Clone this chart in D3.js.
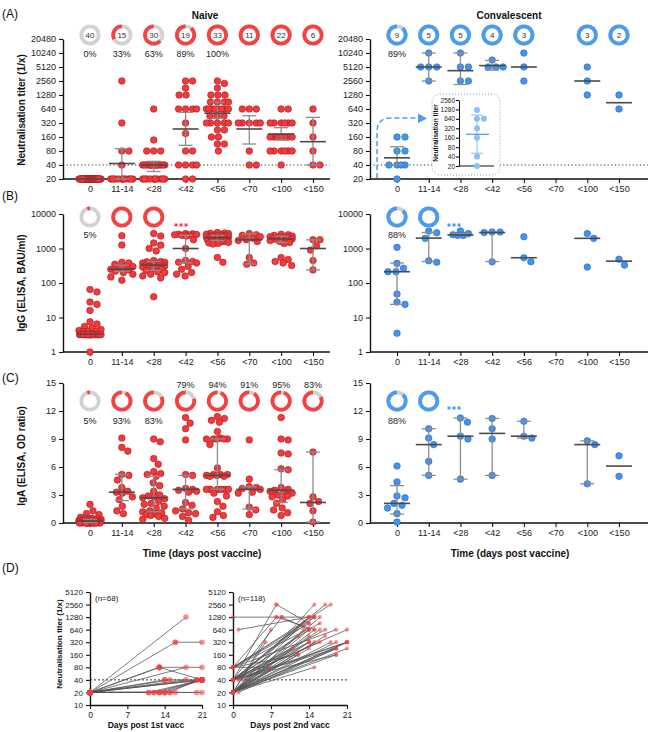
<!DOCTYPE html>
<html>
<head>
<meta charset="utf-8">
<script src="https://cdn.jsdelivr.net/npm/d3@7"></script>
<style>
body { margin: 0; background: #fff; }
</style>
</head>
<body>
<svg id="chart"></svg>
<script>
"use strict";

var categories = ['0', '11-14', '<28', '<42', '<56', '<70', '<100', '<150'];

// (A) neutralisation titres
var aNaive = [
	[20,20,20,20,20,20,20,20,20,20,20,20,20,20,20,20,20,20,20,20,20,20,20,20,20,20,20,20,20,20,20,20,20,20,20,20,20,20,20,20],
	[2560,320,80,80,40,20,20,20,20,20,20,20,20,20,20],
	[640,138,80,80,80,40,40,40,40,40,40,40,40,40,40,40,40,40,40,40,20,20,20,20,20,20,20,20,20,20],
	[2560,2560,1810,1280,1280,640,640,640,640,320,190,80,80,40,40,40,40,20,20],
	[2560,2260,1810,1280,1280,1280,905,905,905,905,640,640,640,640,640,640,640,640,453,453,453,320,320,320,320,320,226,226,160,160,113,113,80],
	[640,640,640,320,320,320,320,320,80,40,40],
	[640,640,320,320,320,320,320,320,160,160,160,160,160,160,160,80,80,80,80,80,80,40],
	[640,320,160,80,40,40]
];
var aNaiveMed = [20, 43, 40, 238, 520, 238, 185, 127];
var aNaiveQ1  = [20, 20, 29, 106, 400, 113, 138, 40];
var aNaiveQ3  = [20, 90, 48, 543, 900, 459, 254, 424];
var aNaiveN   = [40, 15, 30, 19, 33, 11, 22, 6];
var aNaivePct = [0, 33, 63, 89, 100, 100, 100, 100];
var aNaivePctText = ['0%', '33%', '63%', '89%', '100%', '', '', ''];

var aConv = [
	[160,160,80,80,40,40,40,40,20],
	[10240,5120,5120,5120,2560],
	[10240,5120,5120,2560,2560],
	[7240,5120,5120,5120],
	[10240,5120,2560],
	[],
	[5120,2560,1280],
	[1280,640]
];
var aConvMed = [57, 5120, 4270, 5480, 5120, null, 2560, 874];
var aConvQ1  = [40, 2560, 2150, 4400, 5120, null, 2560, 874];
var aConvQ3  = [99, 10240, 10240, 7100, 5120, null, 2560, 874];
var aConvN   = [9, 5, 5, 4, 3, null, 3, 2];
var aConvPct = [89, 100, 100, 100, 100, null, 100, 100];
var aConvPctText = ['89%', '', '', '', '', '', '', ''];

var insetVals = [1230, 640, 640, 320, 160, 40, 20];
var insetMed = 205, insetQ1 = 51, insetQ3 = 845;

var titerTicks = [20, 40, 80, 160, 320, 640, 1280, 2560, 5120, 10240, 20480];
var insetTicks = [20, 40, 80, 160, 320, 640, 1280, 2560];

// (B) IgG
var bNaive = [
	[65,55,28,24,16,7.5,6.5,5.5,5,4.5,4.2,4,4,3.8,3.2,3.2,3.2,3.2,3.2,3.2,3.2,3.2,3.2,3.2,3.2,3.2,3.2,3.2,3.2,3.2,3.2,3.2,3.2,3.2,3.2,3.2,3.2,3.2,1],
	[2340,1260,400,380,350,300,290,270,250,240,220,200,180,150,120],
	[2700,2300,1450,1250,1000,850,450,420,410,400,380,370,360,350,340,330,320,310,300,290,280,260,250,230,210,200,180,160,140,40],
	[2700,2650,2600,2550,2500,2450,2400,2300,1800,1000,450,420,400,380,300,250,200,180,160],
	[2900,2800,2750,2700,2600,2500,2450,2400,2350,2300,2250,2200,2200,2150,2100,2050,2000,2000,1950,1900,1850,1800,1750,1700,1650,1600,1550,1500,1450,1400,1350,550,400],
	[2700,2500,2400,2200,2000,1800,1700,1600,550,380,350],
	[2600,2500,2400,2300,2200,2150,2100,2050,2000,1950,1900,1850,1800,1700,1600,1500,1400,550,480,420,380,320],
	[1800,1800,1200,900,450,240]
];
var bNaiveMed = [3.3, 253, 330, 1000, 2050, 1780, 1900, 1000];
var bNaiveQ1  = [3.3, 215, 230, 380, 1700, 355, 1500, 240];
var bNaiveQ3  = [3.3, 330, 420, 2400, 2400, 2650, 2300, 1780];
var bNaivePct = [5, 100, 100];
var bNaivePctText = ['5%', '', ''];

var bConv = [
	[1080,370,267,212,212,48,28,24,3.5],
	[3200,2870,1970,440,400],
	[3200,2700,2500,2400,2400],
	[3000,3000,2900,410],
	[2200,540,415],
	[],
	[2700,1970,290],
	[490,330]
];
var bConvMed = [212, 2000, 2470, 2900, 540, null, 1970, 430];
var bConvQ1  = [24, 420, 2400, 420, 540, null, 1970, 430];
var bConvQ3  = [380, 2900, 2700, 3000, 540, null, 1970, 430];
var bConvPct = [88, 100];
var bConvPctText = ['88%', ''];

var iggTicks = [1, 10, 100, 1000, 10000];

// (C) IgA
var cNaive = [
	[2.0,1.3,1.0,0.9,0.6,0.5,0.5,0.45,0.4,0.4,0.35,0.3,0.3,0.3,0.25,0.25,0.2,0.2,0.2,0.15,0.15,0.1,0.1,0.1,0.1,0.05,0.05,0.05,0,0,0,0,0,0,0,0,0,0,0,0],
	[9.1,8.1,7.7,5.2,5.1,4.6,3.8,3.4,3.3,3.2,2.8,2.5,1.8,1.3,1.0],
	[9.0,8.7,6.9,6.3,5.5,5.3,5.2,5.0,4.3,4.0,3.4,3.0,2.9,2.8,2.7,2.6,2.3,2.1,2.0,1.8,1.6,1.3,1.2,1.1,1.0,0.9,0.8,0.7,0.5,0.4],
	[11.3,10.7,10.1,8.9,5.2,5.1,3.7,3.6,3.5,3.4,3.3,2.2,1.9,1.5,1.3,1.1,1.0,0.7,0.3],
	[11.4,11.2,11.0,10.8,9.8,9.1,9.0,9.0,9.0,9.0,9.0,8.4,5.9,5.2,5.2,5.2,5.1,5.1,5.0,5.0,3.6,3.6,3.6,3.6,3.6,3.6,3.2,2.9,2.3,1.8,1.2,0.8,0.6],
	[8.9,4.7,3.9,3.8,3.7,3.6,3.3,3.2,1.7,1.4,0.9],
	[11.3,9.0,8.9,7.5,7.4,5.8,5.7,3.8,3.6,3.5,3.4,3.3,3.2,3.0,2.9,2.8,2.5,2.1,1.6,1.4,1.1,0.8],
	[7.6,2.8,2.3,2.1,1.3,0.1]
];
var cNaiveMed = [0.2, 3.3, 2.7, 3.6, 5.1, 3.6, 3.5, 2.2];
var cNaiveQ1  = [0.05, 2.4, 1.2, 1.5, 3.6, 1.5, 2.2, 0.1];
var cNaiveQ3  = [0.4, 5.2, 5.0, 5.1, 9.0, 3.9, 5.7, 7.6];
var cNaivePct = [5, 93, 83, 79, 94, 91, 95, 83];
var cNaivePctText = ['5%', '93%', '83%', '79%', '94%', '91%', '95%', '83%'];

var cConv = [
	[6.1,4.4,2.9,2.7,2.1,1.9,1.6,1.0,0.1],
	[10.1,9.1,8.4,6.6,5.1],
	[11.25,10.8,9.3,9.0,4.7],
	[11.2,10.1,9.0,5.1],
	[10.9,9.3,9.1],
	[],
	[8.8,8.4,4.2],
	[7.2,5.0]
];
var cConvMed = [2.1, 8.4, 9.3, 9.6, 9.3, null, 8.4, 6.1];
var cConvQ1  = [0.95, 5.1, 4.7, 5.1, 9.1, null, 4.2, 6.1];
var cConvQ3  = [4.0, 10.1, 11.25, 11.2, 10.9, null, 8.8, 6.1];
var cConvPct = [88, 100];
var cConvPctText = ['88%', ''];

var igaTicks = [0, 3, 6, 9, 12, 15];

// (D) paired titres: [day, titer, day, titer]
var dFirst = [
	[0,20,18,1280], [0,20,16,320], [16,320,21,320], [0,20,13,80], [13,80,21,40],
	[13,80,21,80], [0,20,18,80], [0,20,13,80], [0,20,14,40], [0,20,15,40],
	[0,20,18,40], [0,20,20,40], [0,20,21,40], [0,20,21,40], [0,20,11,20],
	[0,20,12,20], [0,20,13,20], [0,20,14,20], [0,20,15,20], [0,20,16,20],
	[0,20,20,20], [0,20,21,20], [11,20,21,40], [12,20,21,40], [13,20,21,40],
	[14,20,21,40], [15,20,20,40], [14,40,21,40], [0,20,13,20], [0,20,14,20]
];
var dSecond = [
	[0,1280,15,1280], [1,640,14,1280], [0,40,8,2560], [8,2560,14,905], [0,80,8,1280],
	[0,40,9,1280], [9,1280,14,640], [8,1280,15,640], [0,20,7,640], [0,20,6,320],
	[0,80,7,80], [0,20,15,2560], [0,40,17,2560], [0,80,18,2560], [0,20,14,1280],
	[0,40,15,1280], [0,20,16,1280], [0,80,14,905], [0,20,14,640], [0,40,14,640],
	[0,20,15,640], [0,40,17,640], [0,80,19,640], [0,40,21,640], [0,20,14,453],
	[0,20,14,320], [0,40,14,320], [0,20,15,320], [0,40,16,320], [0,20,19,320],
	[0,20,21,320], [0,40,21,320], [0,20,21,320], [0,20,14,226], [0,20,19,226],
	[0,40,19,226], [0,20,12,160], [0,20,19,160], [0,40,19,160], [0,20,15,80],
	[1,20,19,226], [1,40,21,320], [2,40,14,320], [0,80,12,160], [0,20,13,640],
	[0,40,13,905], [0,40,11,226], [0,20,17,453], [0,80,16,905], [0,40,14,1280],
	[0,20,16,640], [0,40,12,453], [0,20,18,320], [0,80,15,1280], [0,20,21,226]
];
var dTicks = [10, 20, 40, 80, 160, 320, 640, 1280, 2560, 5120];
var dDays = [0, 7, 14, 21];

var FONT = '"Liberation Sans", Arial, sans-serif';
var RED = '#f23a3d', RED_S = '#a81519';
var BLUE = '#4293ee', BLUE_S = '#2a6cc2';
var RING_GREY = '#d2d2d2', RING_RED = '#f44243', RING_BLUE = '#4a9cf0';

var svg = d3.select('#chart').attr('width', 650).attr('height', 732)
	.attr('font-family', FONT);
svg.append('rect').attr('width', 650).attr('height', 732).attr('fill', 'white');

var xNaive = d3.scalePoint().domain(categories).range([90, 313]);
var xConv = d3.scalePoint().domain(categories).range([397, 619]);

var yA = d3.scaleLog().base(2).domain([20, 20480]).range([179, 39]);
var yB = d3.scaleLog().domain([1, 10000]).range([352, 214]);
var yC = d3.scaleLinear().domain([0, 15]).range([523, 383]);

function styleAxis(g, fs) {
	g.attr('font-family', FONT);
	g.selectAll('path').attr('stroke', '#111').attr('stroke-width', 1.4);
	g.selectAll('line').attr('stroke', '#111').attr('stroke-width', 1.1);
	g.selectAll('text').attr('font-size', fs).attr('fill', '#222');
}

function yAxis(x, scale, ticks, fs) {
	var g = svg.append('g').attr('transform', 'translate(' + x + ',0)')
	  .call(d3.axisLeft(scale).tickValues(ticks).tickFormat(d3.format('d')).tickSize(4).tickSizeOuter(0));
	styleAxis(g, fs);
	return g;
}

function xAxis(y, scale, x0, x1) {
	var g = svg.append('g').attr('transform', 'translate(0,' + y + ')')
	  .call(d3.axisBottom(scale).tickSize(4).tickSizeOuter(0));
	g.select('.domain').remove();
	g.append('line').attr('x1', x0).attr('x2', x1);
	styleAxis(g, 9);
	g.select('line:last-child').attr('stroke-width', 1.4);
	return g;
}

// spread points sideways so they overlap as little as the column width allows
function swarm(vals, scale, cx, dist, maxW) {
	var placed = [];
	var pts = vals.map(function(v){ return {v: v, y: scale(v)}; })
	  .sort(function(a, b){ return a.y - b.y; });
	pts.forEach(function(p){
		var bestOff = 0, bestD = -1;
		for (var k = 0; k <= maxW * 4; k++) {
			var off = (k % 2 ? 1 : -1) * Math.ceil(k / 2) * 0.5;
			if (Math.abs(off) > maxW) continue;
			var md = Infinity;
			placed.forEach(function(q){
				var d = Math.hypot(q.x - (cx + off), q.y - p.y);
				if (d < md) md = d;
			});
			if (md >= dist) { bestOff = off; break; }
			if (md > bestD) { bestD = md; bestOff = off; }
		}
		p.x = cx + bestOff;
		placed.push(p);
	});
	return placed;
}

function dots(groups, x, y, fill, stroke, dist, r) {
	var g = svg.append('g');
	groups.forEach(function(vals, i){
		var pts = swarm(vals, y, x(categories[i]), dist, 11);
		g.selectAll(null).data(pts).enter().append('circle')
		  .attr('cx', function(d){ return d.x; })
		  .attr('cy', function(d){ return d.y; })
		  .attr('r', r)
		  .attr('fill', fill)
		  .attr('stroke', stroke)
		  .attr('stroke-width', 0.6);
	});
}

function summary(x, y, med, q1, q3, barCol, medCol, half, cap) {
	var g = svg.append('g');
	med.forEach(function(m, i){
		if (m === null) return;
		var cx = x(categories[i]);
		if (q1[i] !== q3[i]) {
			g.append('line').attr('x1', cx).attr('x2', cx)
			  .attr('y1', y(q1[i])).attr('y2', y(q3[i]))
			  .attr('stroke', barCol).attr('stroke-width', 1.3);
			[q1[i], q3[i]].forEach(function(q){
				if (q === m) return;
				g.append('line').attr('x1', cx - cap).attr('x2', cx + cap)
				  .attr('y1', y(q)).attr('y2', y(q))
				  .attr('stroke', barCol).attr('stroke-width', 1.3);
			});
		}
		g.append('line').attr('x1', cx - half).attr('x2', cx + half)
		  .attr('y1', y(m)).attr('y2', y(m))
		  .attr('stroke', medCol).attr('stroke-width', 1.6);
	});
}

var arcFull = d3.arc().innerRadius(6.8).outerRadius(10.6).startAngle(0).endAngle(2 * Math.PI);

function ring(cx, cy, pct, col, num) {
	var g = svg.append('g').attr('transform', 'translate(' + cx + ',' + cy + ')');
	g.append('path').attr('d', arcFull()).attr('fill', RING_GREY);
	if (pct > 0) {
		var a = d3.arc().innerRadius(6.8).outerRadius(10.6)
		  .startAngle(-2 * Math.PI * pct / 100).endAngle(0);
		g.append('path').attr('d', a()).attr('fill', col);
	}
	if (num !== undefined && num !== null) {
		g.append('text').attr('text-anchor', 'middle').attr('dy', '0.35em')
		  .attr('font-size', 8).attr('fill', '#333').text(num);
	}
}

function rings(x, cy, pcts, col, nums) {
	pcts.forEach(function(p, i){
		if (p === null) return;
		ring(x(categories[i]), cy, p, col, nums ? nums[i] : null);
	});
}

function pctLabels(x, texts, yOf) {
	texts.forEach(function(t, i){
		if (!t) return;
		svg.append('text').attr('x', x(categories[i])).attr('y', yOf(i))
		  .attr('text-anchor', 'middle').attr('font-size', 9).attr('fill', '#222').text(t);
	});
}

function ellipsis(cx, cy, col) {
	[-5, 0, 5].forEach(function(o){
		svg.append('rect').attr('x', cx + o - 1.5).attr('y', cy - 1.5)
		  .attr('width', 3).attr('height', 3).attr('fill', col);
	});
}

function dotted(y, x0, x1) {
	svg.append('line').attr('x1', x0).attr('x2', x1).attr('y1', y).attr('y2', y)
	  .attr('stroke', '#333').attr('stroke-width', 1).attr('stroke-dasharray', '1.2,2.4');
}

function label(x, y, txt, size, weight, rotate, anchor) {
	var t = svg.append('text').attr('font-size', size).attr('font-weight', weight || 'normal')
	  .attr('fill', '#111').attr('text-anchor', anchor || 'middle').text(txt);
	if (rotate) t.attr('transform', 'translate(' + x + ',' + y + ') rotate(-90)');
	else t.attr('x', x).attr('y', y);
	return t;
}

// titles and panel letters
label(205, 19, 'Naive', 10, 'bold');
label(509, 19, 'Convalescent', 10, 'bold');
label(2, 18, '(A)', 12, 'normal', false, 'start');
label(2, 200, '(B)', 12, 'normal', false, 'start');
label(2, 382, '(C)', 12, 'normal', false, 'start');
label(2, 572, '(D)', 12, 'normal', false, 'start');
label(25, 110, 'Neutralisation titer (1/x)', 10, 'bold', true);
label(25, 283, 'IgG  (ELISA, BAU/ml)', 10, 'bold', true);
label(25, 456, 'IgA (ELISA, OD ratio)', 10, 'bold', true);
label(202, 557, 'Time (days post vaccine)', 10, 'bold');
label(510, 557, 'Time (days post vaccine)', 10, 'bold');

// ---- (A)
dotted(yA(40), 63, 330);
dotted(yA(40), 370, 648);
yAxis(63, yA, titerTicks, 9);
yAxis(370, yA, titerTicks, 9);
xAxis(179, xNaive, 63, 330);
xAxis(179, xConv, 370, 648);
dots(aNaive, xNaive, yA, RED, RED_S, 7, 3.3);
dots(aConv, xConv, yA, BLUE, BLUE_S, 8, 3.3);
summary(xNaive, yA, aNaiveMed, aNaiveQ1, aNaiveQ3, '#8d8d8d', '#4a4a4a', 13, 7);
summary(xConv, yA, aConvMed, aConvQ1, aConvQ3, '#8d8d8d', '#4a4a4a', 13, 7);
rings(xNaive, 35, aNaivePct, RING_RED, aNaiveN);
rings(xConv, 35, aConvPct, RING_BLUE, aConvN);
pctLabels(xNaive, aNaivePctText, function(){ return 57; });
pctLabels(xConv, aConvPctText, function(){ return 57; });

// inset of convalescent day 0
var yIn = d3.scaleLog().base(2).domain([20, 2560]).range([166, 100]);
svg.append('rect').attr('x', 432).attr('y', 94).attr('width', 68).attr('height', 81).attr('rx', 8)
  .attr('fill', 'white').attr('stroke', '#6fa6e6').attr('stroke-width', 1).attr('stroke-dasharray', '1,2');
var gIn = svg.append('g').attr('transform', 'translate(459,0)')
  .call(d3.axisLeft(yIn).tickValues(insetTicks).tickFormat(d3.format('d')).tickSize(3).tickSizeOuter(0));
styleAxis(gIn, 6.5);
gIn.selectAll('path').attr('stroke-width', 1);
gIn.selectAll('text').attr('x', -4);
svg.append('line').attr('x1', 459).attr('x2', 494).attr('y1', 166).attr('y2', 166)
  .attr('stroke', '#111').attr('stroke-width', 1);
label(438, 133, 'Neutralisation titer', 6.5, 'bold', true);
var inPts = swarm(insetVals, yIn, 477, 7, 8);
svg.append('line').attr('x1', 477).attr('x2', 477).attr('y1', yIn(insetQ1)).attr('y2', yIn(insetQ3))
  .attr('stroke', '#9cc8f5').attr('stroke-width', 1.2);
[insetQ1, insetQ3].forEach(function(q){
	svg.append('line').attr('x1', 471).attr('x2', 483).attr('y1', yIn(q)).attr('y2', yIn(q))
	  .attr('stroke', '#9cc8f5').attr('stroke-width', 1.2);
});
svg.selectAll(null).data(inPts).enter().append('circle')
  .attr('cx', function(d){ return d.x; }).attr('cy', function(d){ return d.y; })
  .attr('r', 3).attr('fill', '#8dbff4');
svg.append('line').attr('x1', 466).attr('x2', 489).attr('y1', yIn(insetMed)).attr('y2', yIn(insetMed))
  .attr('stroke', '#5fa2ee').attr('stroke-width', 1.4);

// dashed arrow to the inset
svg.append('path').attr('d', 'M377,178 L377,132 Q377,118 391,118 L419,118')
  .attr('fill', 'none').attr('stroke', RING_BLUE).attr('stroke-width', 1.5).attr('stroke-dasharray', '5,3');
svg.append('path').attr('d', 'M418,113.5 L427,118.5 L418,123 Z').attr('fill', RING_BLUE);

// ---- (B)
yAxis(63, yB, iggTicks, 9);
yAxis(370, yB, iggTicks, 9);
xAxis(352, xNaive, 63, 330);
xAxis(352, xConv, 370, 648);
dots(bNaive, xNaive, yB, RED, RED_S, 7, 3.3);
dots(bConv, xConv, yB, BLUE, BLUE_S, 8, 3.3);
summary(xNaive, yB, bNaiveMed, bNaiveQ1, bNaiveQ3, '#8d8d8d', '#4a4a4a', 13, 7);
summary(xConv, yB, bConvMed, bConvQ1, bConvQ3, '#8d8d8d', '#4a4a4a', 13, 7);
rings(xNaive, 217, bNaivePct, RING_RED);
rings(xConv, 217, bConvPct, RING_BLUE);
pctLabels(xNaive, bNaivePctText, function(){ return 238; });
pctLabels(xConv, bConvPctText, function(){ return 238; });
ellipsis(181, 225, RING_RED);
ellipsis(454, 225, RING_BLUE);

// ---- (C)
yAxis(63, yC, igaTicks, 9);
yAxis(370, yC, igaTicks, 9);
xAxis(523, xNaive, 63, 330);
xAxis(523, xConv, 370, 648);
dots(cNaive, xNaive, yC, RED, RED_S, 7, 3.3);
dots(cConv, xConv, yC, BLUE, BLUE_S, 8, 3.3);
summary(xNaive, yC, cNaiveMed, cNaiveQ1, cNaiveQ3, '#8d8d8d', '#4a4a4a', 13, 7);
summary(xConv, yC, cConvMed, cConvQ1, cConvQ3, '#8d8d8d', '#4a4a4a', 13, 7);
rings(xNaive, 401, cNaivePct, RING_RED);
rings(xConv, 401, cConvPct, RING_BLUE);
pctLabels(xNaive, cNaivePctText, function(i){ return i < 3 ? 424 : 388; });
pctLabels(xConv, cConvPctText, function(){ return 424; });
ellipsis(454, 408, RING_BLUE);

// ---- (D)
var yD = d3.scaleLog().base(2).domain([10, 5120]).range([705, 592]);
function pairedPlot(pairs, x0, x1, n, title, r) {
	var x = d3.scaleLinear().domain([0, 21]).range([x0, x1]);
	var gy = svg.append('g').attr('transform', 'translate(' + x0 + ',0)')
	  .call(d3.axisLeft(yD).tickValues(dTicks).tickFormat(d3.format('d')).tickSize(4).tickSizeOuter(0));
	styleAxis(gy, 8);
	var gx = svg.append('g').attr('transform', 'translate(0,705)')
	  .call(d3.axisBottom(x).tickValues(dDays).tickSize(4).tickSizeOuter(0));
	styleAxis(gx, 8.5);
	svg.append('line').attr('x1', x0).attr('x2', x1).attr('y1', yD(40)).attr('y2', yD(40))
	  .attr('stroke', '#333').attr('stroke-width', 1).attr('stroke-dasharray', '2,2');
	svg.append('g').selectAll('line').data(pairs).enter().append('line')
	  .attr('x1', function(d){ return x(d[0]); }).attr('y1', function(d){ return yD(d[1]); })
	  .attr('x2', function(d){ return x(d[2]); }).attr('y2', function(d){ return yD(d[3]); })
	  .attr('stroke', '#555').attr('stroke-width', 0.9).attr('opacity', 0.85);
	var ends = [];
	pairs.forEach(function(d){ ends.push([d[0], d[1]]); ends.push([d[2], d[3]]); });
	svg.append('g').selectAll('circle').data(ends).enter().append('circle')
	  .attr('cx', function(d){ return x(d[0]); }).attr('cy', function(d){ return yD(d[1]); })
	  .attr('r', r).attr('fill', '#f03c3c').attr('opacity', 0.55);
	svg.append('text').attr('x', x0 + 5).attr('y', 601).attr('font-size', 8).attr('fill', '#222').text(n);
	label((x0 + x1) / 2, 728, title, 8.5, 'bold');
}
pairedPlot(dFirst, 90, 202, '(n=68)', 'Days post 1st vacc', 2.8);
pairedPlot(dSecond, 233, 347, '(n=118)', 'Days post 2nd vacc', 2.1);
label(62, 644, 'Neutralisation titer (1/x)', 8, 'bold', true);
</script>
</body>
</html>
